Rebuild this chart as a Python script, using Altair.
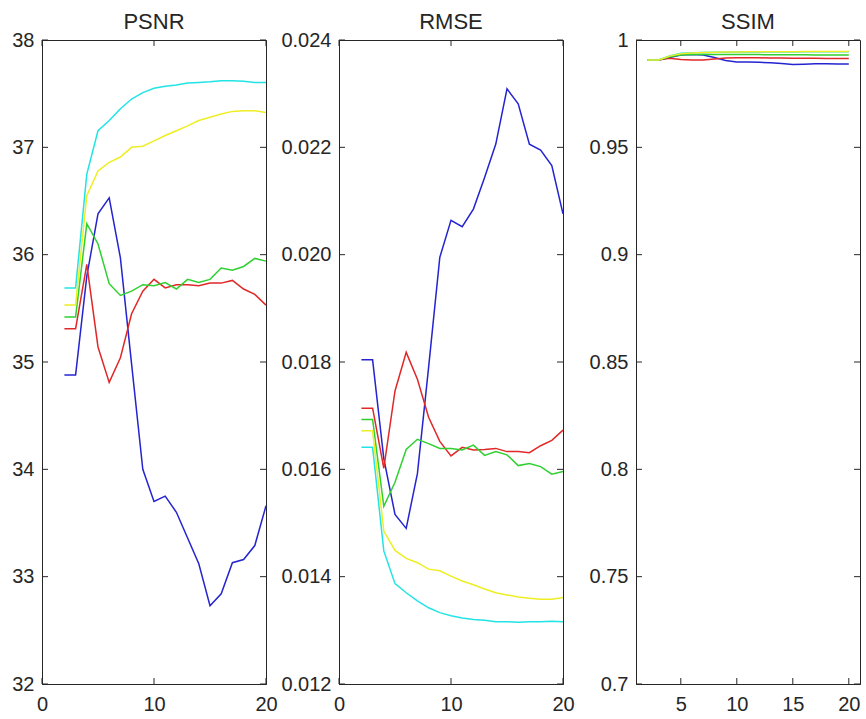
import altair as alt
import pandas as pd

x_vals = list(range(2, 21))
series_names = ["blue", "red", "green", "cyan", "yellow"]
series_colors = ["#2424d0", "#e02828", "#30d030", "#22e4e4", "#eeee22"]

psnr_blue = [34.88, 34.88, 35.80, 36.38, 36.53, 35.97, 34.98, 34.00, 33.70, 33.75, 33.60, 33.36, 33.12, 32.73, 32.84, 33.13, 33.16, 33.29, 33.66]
psnr_red = [35.31, 35.31, 35.91, 35.14, 34.81, 35.04, 35.45, 35.66, 35.77, 35.69, 35.72, 35.72, 35.71, 35.735, 35.735, 35.76, 35.68, 35.63, 35.53]
psnr_green = [35.42, 35.42, 36.29, 36.10, 35.73, 35.62, 35.66, 35.72, 35.71, 35.74, 35.68, 35.77, 35.74, 35.77, 35.875, 35.855, 35.89, 35.965, 35.94]
psnr_cyan = [35.69, 35.69, 36.75, 37.155, 37.25, 37.36, 37.45, 37.51, 37.55, 37.57, 37.58, 37.60, 37.605, 37.61, 37.62, 37.62, 37.615, 37.605, 37.605]
psnr_yellow = [35.53, 35.53, 36.55, 36.78, 36.86, 36.91, 37.00, 37.01, 37.06, 37.11, 37.155, 37.20, 37.25, 37.28, 37.31, 37.335, 37.34, 37.34, 37.325]

rmse_blue = [0.01804, 0.01804, 0.0162, 0.01516, 0.0149, 0.01592, 0.0179, 0.01995, 0.02064, 0.02052, 0.02085, 0.02144, 0.02206, 0.02309, 0.02281, 0.02206, 0.02195, 0.02166, 0.02076]
rmse_red = [0.01714, 0.01714, 0.01602, 0.01746, 0.01818, 0.01768, 0.01697, 0.01652, 0.01625, 0.01641, 0.01636, 0.01637, 0.01639, 0.01633, 0.01633, 0.01631, 0.01644, 0.01654, 0.01673]
rmse_green = [0.01693, 0.01693, 0.01531, 0.01576, 0.01637, 0.01656, 0.01648, 0.01639, 0.01639, 0.01636, 0.01645, 0.01626, 0.01633, 0.01627, 0.01607, 0.01611, 0.01605, 0.01591, 0.01596]
rmse_cyan = [0.01641, 0.01641, 0.01448, 0.01387, 0.0137, 0.01355, 0.01342, 0.01333, 0.01327, 0.01323, 0.0132, 0.01319, 0.01316, 0.01316, 0.01315, 0.01316, 0.01316, 0.01317, 0.01316]
rmse_yellow = [0.01672, 0.01672, 0.01485, 0.01449, 0.01434, 0.01426, 0.01414, 0.01411, 0.01401, 0.01392, 0.01385, 0.01377, 0.0137, 0.01366, 0.01362, 0.0136, 0.01358, 0.01358, 0.01361]

ssim_blue = [0.9907, 0.9907, 0.9918, 0.9930, 0.9932, 0.9930, 0.9918, 0.9905, 0.9898, 0.9897, 0.9896, 0.9894, 0.9890, 0.9886, 0.9887, 0.9889, 0.9889, 0.9888, 0.9888]
ssim_red = [0.9907, 0.9907, 0.9915, 0.9909, 0.9907, 0.9907, 0.9912, 0.9916, 0.9917, 0.9917, 0.9917, 0.9916, 0.9916, 0.9915, 0.9915, 0.9915, 0.9914, 0.9914, 0.9914]
ssim_green = [0.9907, 0.9907, 0.9922, 0.9930, 0.9933, 0.9934, 0.9933, 0.9932, 0.9932, 0.9932, 0.9932, 0.9931, 0.9931, 0.9931, 0.9931, 0.9930, 0.9930, 0.9930, 0.9930]
ssim_cyan = [0.9907, 0.9907, 0.9926, 0.9938, 0.9941, 0.9942, 0.9943, 0.9943, 0.9944, 0.9944, 0.9944, 0.9944, 0.9944, 0.9944, 0.9945, 0.9945, 0.9945, 0.9945, 0.9945]
ssim_yellow = [0.9907, 0.9907, 0.9925, 0.9936, 0.9940, 0.9942, 0.9943, 0.9944, 0.9944, 0.9945, 0.9945, 0.9945, 0.9945, 0.9945, 0.9946, 0.9946, 0.9946, 0.9946, 0.9946]

psnr_yticks = [32, 33, 34, 35, 36, 37, 38]
rmse_yticks = [0.012, 0.014, 0.016, 0.018, 0.020, 0.022, 0.024]
ssim_yticks = [0.7, 0.75, 0.8, 0.85, 0.9, 0.95, 1.0]
xticks_a = [0, 10, 20]
xticks_b = [5, 10, 15, 20]

W, H = 224, 644
INK = "#262626"
FONT = "Liberation Sans"
TL = 6


def long_df(blocks):
    rows = []
    for order, (name, vals) in enumerate(zip(series_names, blocks)):
        for xv, yv in zip(x_vals, vals):
            rows.append({"x": xv, "y": yv, "series": name, "k": order})
    return pd.DataFrame(rows)


def panel(title, blocks, xdom, xticks, ydom, yticks, yfmt):
    df = long_df(blocks)
    xs = alt.Scale(domain=xdom, nice=False, zero=False)
    ys = alt.Scale(domain=ydom, nice=False, zero=False)
    xax = alt.Axis(values=xticks, ticks=False, grid=False, labelPadding=10,
                   domainColor=INK, labelColor=INK, labelFontSize=20,
                   labelFont=FONT, format="d", labelFlush=False, title=None)
    yax = alt.Axis(values=yticks, ticks=False, grid=False, labelPadding=8,
                   domainColor=INK, labelColor=INK, labelFontSize=20,
                   labelFont=FONT, format=yfmt, labelFlush=False, title=None)
    lines = alt.Chart(df).mark_line(strokeWidth=1.5).encode(
        x=alt.X("x:Q", scale=xs, axis=xax, title=None),
        y=alt.Y("y:Q", scale=ys, axis=yax, title=None),
        color=alt.Color("series:N", scale=alt.Scale(domain=series_names, range=series_colors), legend=None),
    )
    ydf = pd.DataFrame({"t": yticks})
    xdf = pd.DataFrame({"t": xticks})
    left = alt.Chart(ydf).mark_rule(color=INK, strokeWidth=1).encode(
        y=alt.Y("t:Q", scale=ys, axis=yax, title=None), x=alt.value(0), x2=alt.value(TL))
    right = alt.Chart(ydf).mark_rule(color=INK, strokeWidth=1).encode(
        y=alt.Y("t:Q", scale=ys, axis=yax, title=None), x=alt.value(W - TL), x2=alt.value(W))
    bottom = alt.Chart(xdf).mark_rule(color=INK, strokeWidth=1).encode(
        x=alt.X("t:Q", scale=xs, axis=xax, title=None), y=alt.value(H - TL), y2=alt.value(H))
    top = alt.Chart(xdf).mark_rule(color=INK, strokeWidth=1).encode(
        x=alt.X("t:Q", scale=xs, axis=xax, title=None), y=alt.value(0), y2=alt.value(TL))
    return alt.layer(lines, left, right, bottom, top).properties(
        width=W, height=H,
        title=alt.TitleParams(title, fontSize=22, font=FONT, fontWeight="normal",
                              color=INK, offset=-4, anchor="middle"))


p1 = panel("PSNR", [psnr_blue, psnr_red, psnr_green, psnr_cyan, psnr_yellow],
           [0, 20], xticks_a, [32, 38], psnr_yticks, "d")
p2 = panel("RMSE", [rmse_blue, rmse_red, rmse_green, rmse_cyan, rmse_yellow],
           [0, 20], xticks_a, [0.012, 0.024], rmse_yticks, ".3f")
p3 = panel("SSIM", [ssim_blue, ssim_red, ssim_green, ssim_cyan, ssim_yellow],
           [1, 21], xticks_b, [0.7, 1.0], ssim_yticks, "")

chart = alt.hconcat(p1, p2, p3, spacing=73, bounds="flush").properties(
    padding={"left": 11, "top": 10, "right": 0, "bottom": 0}
).configure(background="white").configure_view(stroke=INK, strokeWidth=1)

chart.save("out.html", embed_options={"renderer": "svg", "actions": False})
